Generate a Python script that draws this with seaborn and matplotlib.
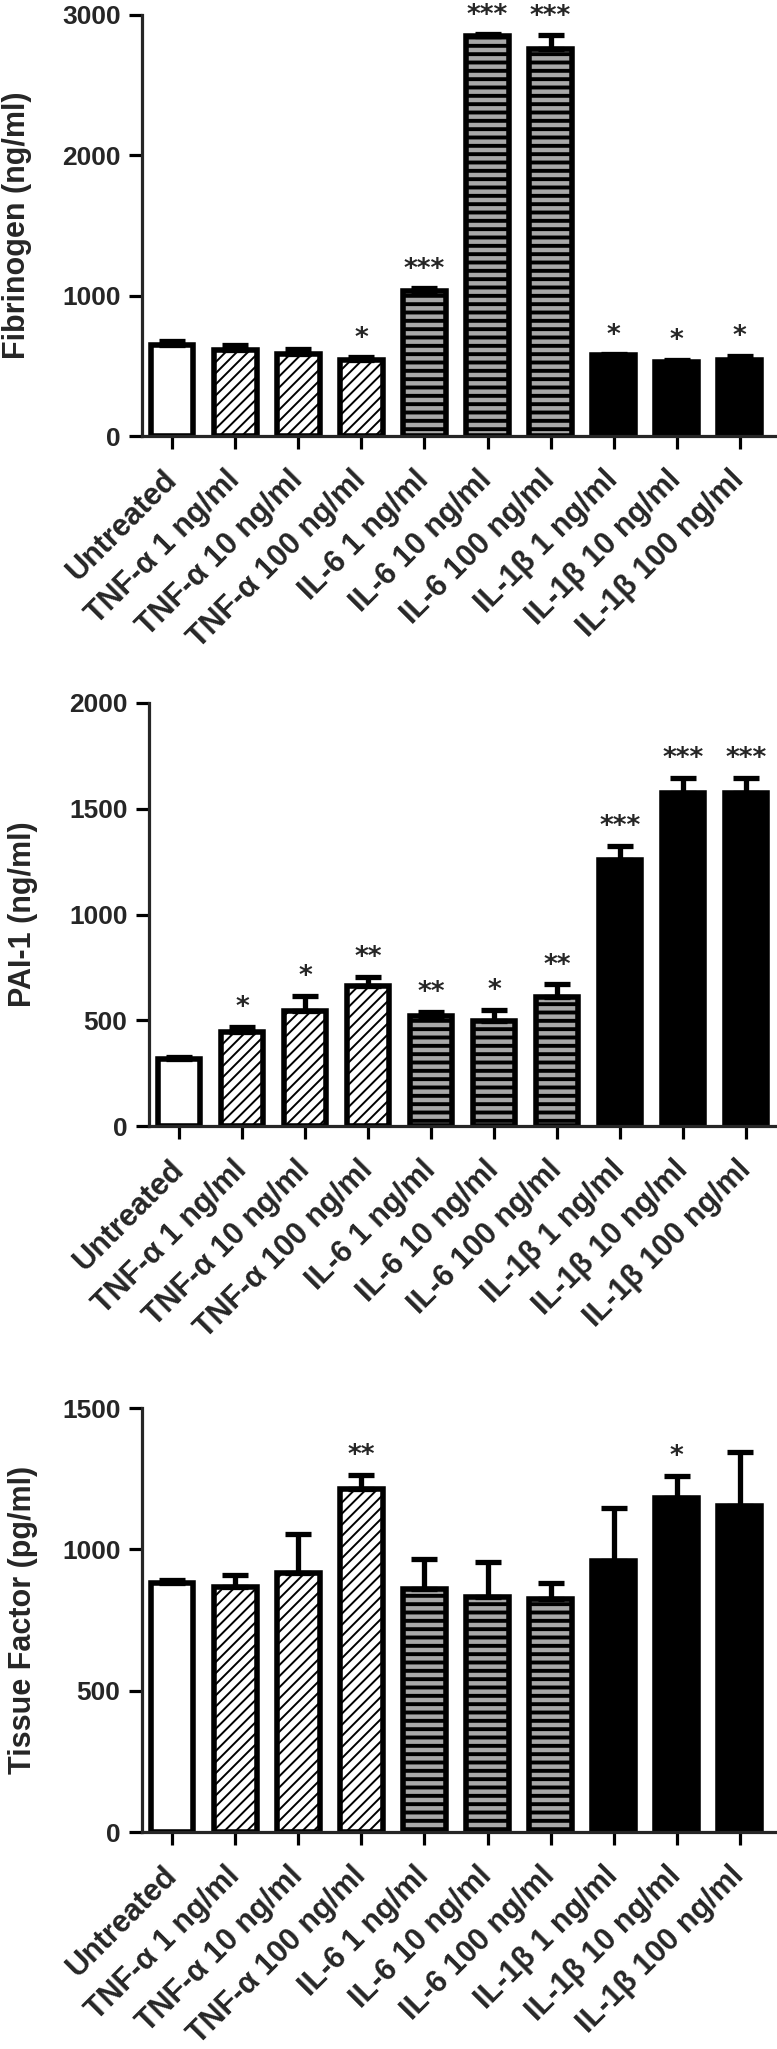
import matplotlib
matplotlib.use("Agg")
import matplotlib.pyplot as plt
import numpy as np
import pandas as pd
import seaborn as sns

# --- DATA ---
treatments = [
    "Untreated",
    "TNF-α 1 ng/ml",
    "TNF-α 10 ng/ml",
    "TNF-α 100 ng/ml",
    "IL-6 1 ng/ml",
    "IL-6 10 ng/ml",
    "IL-6 100 ng/ml",
    "IL-1β 1 ng/ml",
    "IL-1β 10 ng/ml",
    "IL-1β 100 ng/ml",
]
groups = ["ctrl", "tnf", "tnf", "tnf", "il6", "il6", "il6", "il1b", "il1b", "il1b"]

fibrinogen_mean = [650, 610, 585, 545, 1030, 2850, 2755, 575, 525, 545]
fibrinogen_sem = [25, 40, 35, 15, 22, 12, 100, 8, 18, 28]
fibrinogen_sig = ["", "", "", "*", "***", "***", "***", "*", "*", "*"]

pai1_mean = [315, 445, 545, 660, 520, 495, 610, 1260, 1575, 1575]
pai1_sem = [12, 25, 70, 45, 20, 55, 60, 65, 72, 72]
pai1_sig = ["", "*", "*", "**", "**", "*", "**", "***", "***", "***"]

tf_mean = [880, 865, 915, 1215, 860, 830, 825, 960, 1180, 1155]
tf_sem = [12, 45, 140, 48, 105, 125, 55, 185, 80, 190]
tf_sig = ["", "", "", "**", "", "", "", "", "*", ""]

# --- STYLE ---
FILL = {"ctrl": "white", "tnf": "white", "il6": "#a8a8a8", "il1b": "black"}
HATCH = {"ctrl": "", "tnf": "///", "il6": "--", "il1b": ""}
HATCH_LW = {"ctrl": 1.0, "tnf": 1.4, "il6": 2.8, "il1b": 1.0}

sns.set_style("ticks")
plt.rcParams["font.family"] = ["Liberation Sans", "DejaVu Sans"]
plt.rcParams["hatch.linewidth"] = 2.0

W, H = 777, 2049
fig = plt.figure(figsize=(W / 100, H / 100), dpi=100)

# box = (left px, right px, top px of ymax, bottom px of 0)
panels = [
    dict(mean=fibrinogen_mean, sem=fibrinogen_sem, sig=fibrinogen_sig,
         ymax=3000, step=1000, label="Fibrinogen (ng/ml)",
         box=(142, 776, 15, 436), tick0=172, dx=63.1, lab_x=32),
    dict(mean=pai1_mean, sem=pai1_sem, sig=pai1_sig,
         ymax=2000, step=500, label="PAI-1 (ng/ml)",
         box=(149, 776, 703, 1126), tick0=179, dx=63.0, lab_x=38),
    dict(mean=tf_mean, sem=tf_sem, sig=tf_sig,
         ymax=1500, step=500, label="Tissue Factor (pg/ml)",
         box=(142, 776, 1408, 1832), tick0=172, dx=63.1, lab_x=38),
]

for p in panels:
    left, right, top, bottom = p["box"]
    ax = fig.add_axes([left / W, 1 - bottom / H, (right - left) / W, (bottom - top) / H])

    df = pd.DataFrame({"treatment": treatments, "value": p["mean"]})
    sns.barplot(
        data=df, x="treatment", y="value", hue="treatment",
        palette=[FILL[g] for g in groups], order=treatments, hue_order=treatments,
        errorbar=None, width=0.68, saturation=1, edgecolor="black",
        linewidth=4, legend=False, ax=ax,
    )
    for patch, g in zip(ax.patches, groups):
        patch.set_hatch(HATCH[g])
        if hasattr(patch, "set_hatch_linewidth"):
            patch.set_hatch_linewidth(HATCH_LW[g])
        patch.set_zorder(2)

    x = np.arange(len(treatments))
    mean = np.array(p["mean"])
    sem = np.array(p["sem"])
    ax.errorbar(x, mean, yerr=[np.zeros_like(sem), sem], fmt="none",
                ecolor="black", elinewidth=3.8, capsize=9.5, capthick=3.8, zorder=3)

    for xi, m, s, star in zip(x, mean, sem, p["sig"]):
        if star:
            ax.annotate(star, (xi, m + s), xytext=(0, 4), textcoords="offset points",
                        ha="center", va="bottom", fontsize=19, fontweight="bold",
                        family=["DejaVu Sans"], annotation_clip=False)

    ax.set_xlim((left - p["tick0"]) / p["dx"], (right - p["tick0"]) / p["dx"])
    ax.set_ylim(0, p["ymax"])
    ax.set_yticks(np.arange(0, p["ymax"] + 1, p["step"]))
    ax.set_xticks(x)
    ax.set_xticklabels(treatments, rotation=45, ha="right", va="center",
                       rotation_mode="anchor", fontsize=22, fontweight="bold")
    for t in ax.get_yticklabels():
        t.set_fontsize(19)
        t.set_fontweight("bold")
    ax.set_xlabel("")
    ax.set_ylabel(p["label"], fontsize=22, fontweight="bold")
    ax.yaxis.set_label_coords((p["lab_x"] - left) / (right - left), 0.5)
    ax.yaxis.label.set_va("bottom")

    sns.despine(ax=ax)
    for side in ("left", "bottom"):
        ax.spines[side].set_linewidth(2.3)
    ax.tick_params(axis="both", length=9.5, width=2.3, color="black")
    ax.tick_params(axis="y", pad=6)
    ax.tick_params(axis="x", pad=19)

fig.savefig("out.png", dpi=100, facecolor="white")
